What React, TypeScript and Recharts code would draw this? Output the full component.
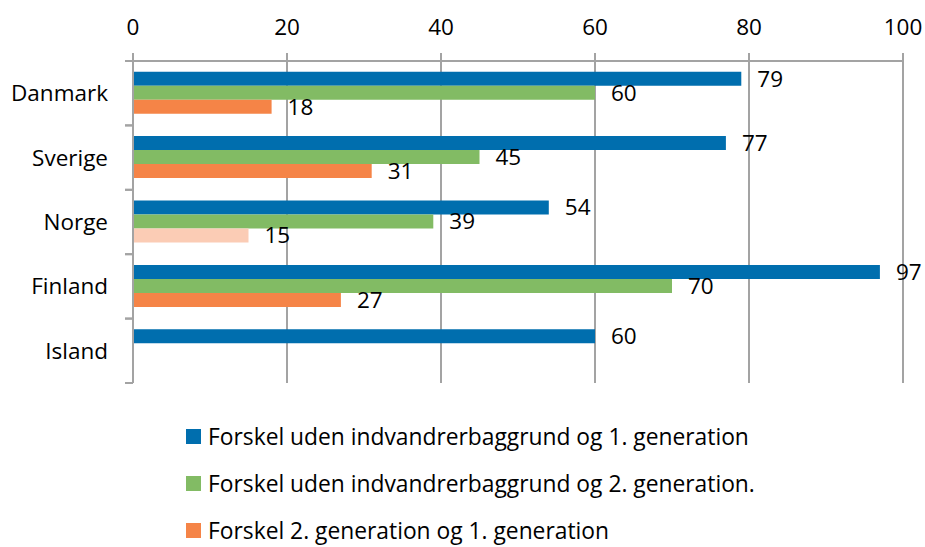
import { BarChart, Bar, XAxis, YAxis, CartesianGrid, LabelList, Legend, Cell } from "recharts";

// data
const countries = ["Danmark", "Sverige", "Norge", "Finland", "Island"];
const firstGenGap = [79, 77, 54, 97, 60];
const secondGenGap = [60, 45, 39, 70, null];
const genDiff = [18, 31, 15, 27, null];
const xTicks = [0, 20, 40, 60, 80, 100];
const seriesNames = [
  "Forskel uden indvandrerbaggrund og 1. generation",
  "Forskel uden indvandrerbaggrund og 2. generation.",
  "Forskel 2. generation og 1. generation",
];

const COLORS = ["#006EAE", "#82BB64", "#F58447"];
const FADED_ORANGE = "#FBCCB5";
const FADED_COUNTRY = "Norge";
const GRID = "#a3a3a3";
const FONT = "'Open Sans', sans-serif";
const TICK_SIZE = 8;
const TICK_MARGIN = 17;

const data = countries.map((name, i) => ({
  name,
  first: firstGenGap[i],
  second: secondGenGap[i],
  diff: genDiff[i],
}));

const CategoryTick = ({ x, y, payload }: any) => {
  const half = payload.offset ?? 32;
  const axisX = x + TICK_SIZE + TICK_MARGIN;
  return (
    <g>
      <line x1={axisX - TICK_SIZE} x2={axisX} y1={y - half} y2={y - half} stroke={GRID} strokeWidth={2} />
      <line x1={axisX - TICK_SIZE} x2={axisX} y1={y + half} y2={y + half} stroke={GRID} strokeWidth={2} />
      <text x={x} y={y} dy={8} textAnchor="end" fill="#000" fontSize={22.5} fontFamily={FONT}>
        {payload.value}
      </text>
    </g>
  );
};

const LegendContent = () => (
  <div style={{ paddingLeft: 186, paddingTop: 30, fontFamily: FONT, fontSize: 22.8, color: "#000" }}>
    {seriesNames.map((name, i) => (
      <div key={name} style={{ display: "flex", alignItems: "center", height: 47 }}>
        <span style={{ width: 15, height: 15, background: COLORS[i], marginRight: 7, flexShrink: 0 }} />
        <span style={{ whiteSpace: "nowrap", lineHeight: "28px" }}>{name}</span>
      </div>
    ))}
  </div>
);

const labelProps = {
  position: "right" as const,
  offset: 16,
  fill: "#000",
  fontSize: 22.5,
  fontFamily: FONT,
  formatter: (v: any) => (v == null ? "" : v),
};

export default function App() {
  return (
    <div style={{ position: "absolute", left: 0, top: 0, width: 925, height: 547, background: "#fff" }}>
      <BarChart
        width={925}
        height={547}
        data={data}
        layout="vertical"
        margin={{ top: 0, right: 22, bottom: 0, left: 0 }}
        barCategoryGap="16.6%"
        barGap={0}
      >
        <CartesianGrid horizontal={false} stroke={GRID} strokeWidth={2} />
        <XAxis
          type="number"
          orientation="top"
          domain={[0, 100]}
          ticks={xTicks}
          height={61}
          tickSize={TICK_SIZE}
          tickMargin={18}
          axisLine={{ stroke: GRID, strokeWidth: 2 }}
          tickLine={{ stroke: GRID, strokeWidth: 2 }}
          tick={{ fill: "#000", fontSize: 22.5, fontFamily: FONT }}
        />
        <YAxis
          type="category"
          dataKey="name"
          width={133}
          tickSize={TICK_SIZE}
          tickMargin={TICK_MARGIN}
          tickLine={false}
          axisLine={{ stroke: GRID, strokeWidth: 2 }}
          tick={<CategoryTick />}
        />
        <Legend
          verticalAlign="bottom"
          align="left"
          content={<LegendContent />}
          wrapperStyle={{ left: 0, top: 383, width: 925, height: 164 }}
        />
        <Bar dataKey="first" name={seriesNames[0]} fill={COLORS[0]} isAnimationActive={false}>
          <LabelList dataKey="first" {...labelProps} />
        </Bar>
        <Bar dataKey="second" name={seriesNames[1]} fill={COLORS[1]} isAnimationActive={false}>
          <LabelList dataKey="second" {...labelProps} />
        </Bar>
        <Bar dataKey="diff" name={seriesNames[2]} fill={COLORS[2]} isAnimationActive={false}>
          {data.map((d) => (
            <Cell key={d.name} fill={d.name === FADED_COUNTRY ? FADED_ORANGE : COLORS[2]} />
          ))}
          <LabelList dataKey="diff" {...labelProps} />
        </Bar>
      </BarChart>
    </div>
  );
}
